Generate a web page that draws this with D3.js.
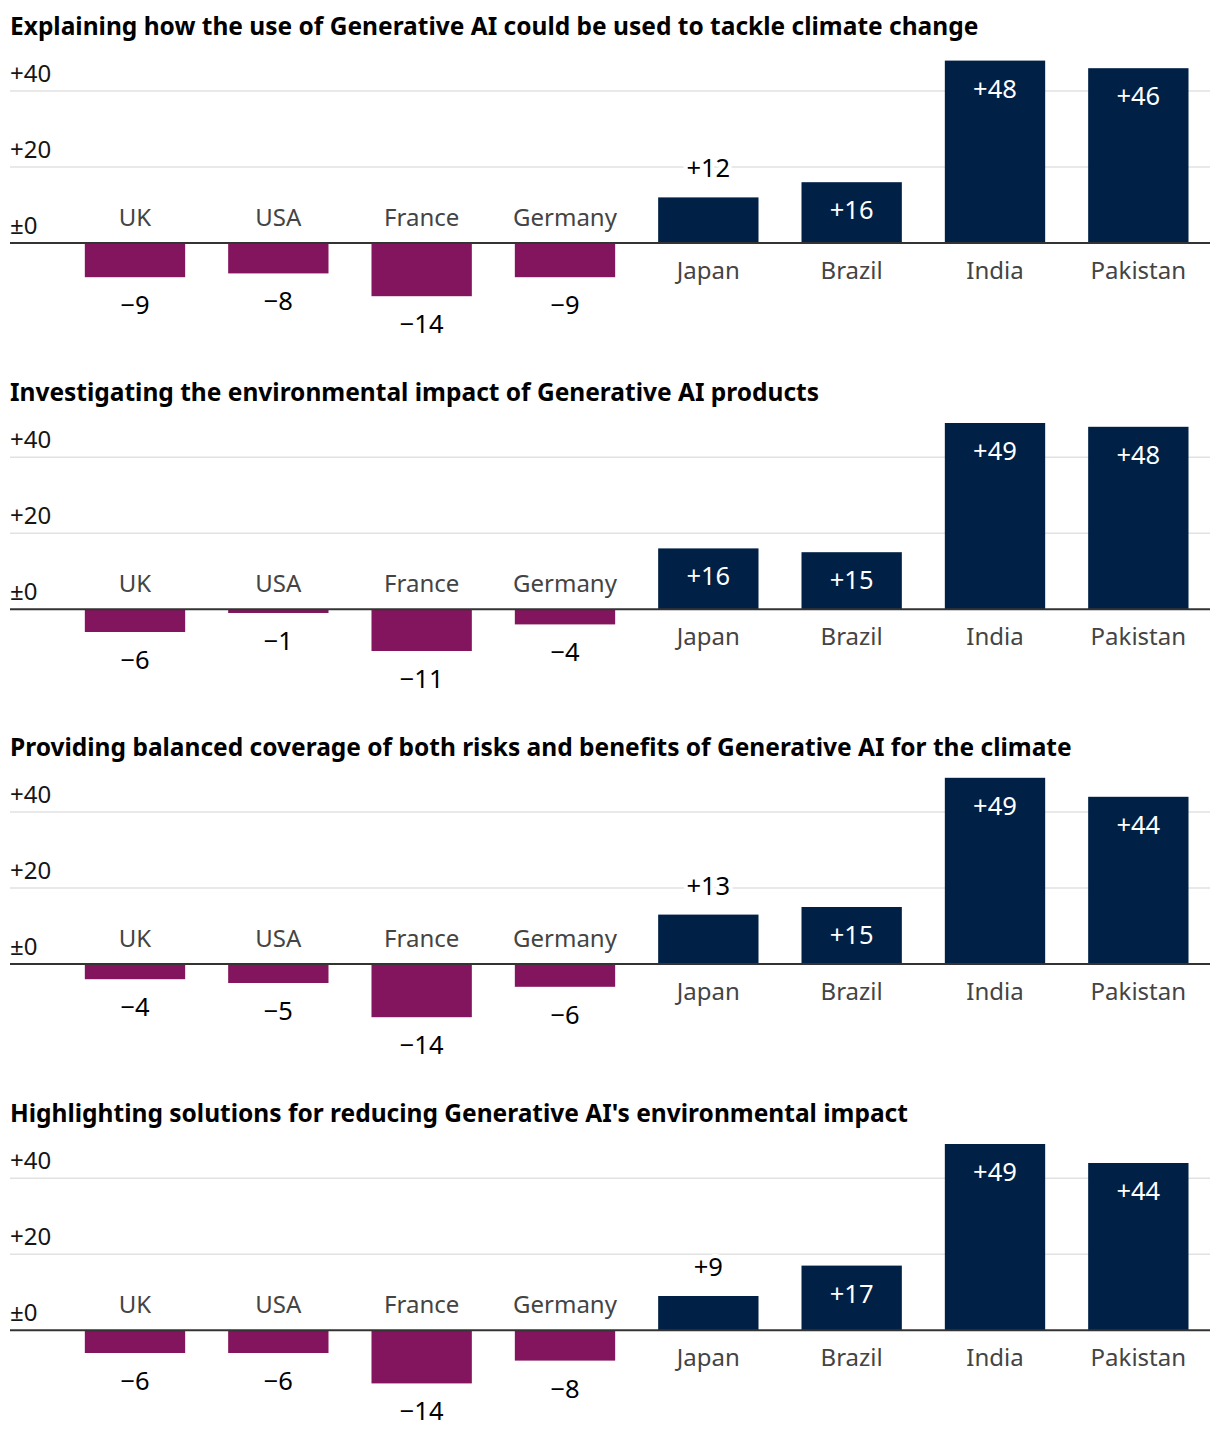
<!DOCTYPE html>
<html><head><meta charset="utf-8">
<script src="https://cdn.jsdelivr.net/npm/d3@7/dist/d3.min.js"></script>
<style>
body{margin:0;background:#fff;}
svg text{font-family:"Noto Sans",sans-serif;}
</style></head>
<body><svg id="c" width="1220" height="1442"></svg>
<script>
const countries = ["UK","USA","France","Germany","Japan","Brazil","India","Pakistan"];
const titles = [
  "Explaining how the use of Generative AI could be used to tackle climate change",
  "Investigating the environmental impact of Generative AI products",
  "Providing balanced coverage of both risks and benefits of Generative AI for the climate",
  "Highlighting solutions for reducing Generative AI's environmental impact"
];
const values1 = [-9,-8,-14,-9,12,16,48,46];
const values2 = [-6,-1,-11,-4,16,15,49,48];
const values3 = [-4,-5,-14,-6,13,15,49,44];
const values4 = [-6,-6,-14,-8,9,17,49,44];
const allValues = [values1,values2,values3,values4];
const yTicks = [0,20,40];
const tickLabel = v => v===0 ? "\u00b10" : (v>0?"+":"\u2212")+Math.abs(v);
const valLabel = v => (v>0?"+":"\u2212")+Math.abs(v);

const svg = d3.select("#c");
const x = d3.scaleBand().domain(countries).range([63.33,1210]).paddingInner(0.3).paddingOuter(0.15);
const pxPerUnit = 3.8;
let titleY = 35; // baseline of first title
allValues.forEach((vals,i)=>{
  const zeroY = titleY + 208;
  const y = d3.scaleLinear().domain([0,20]).range([zeroY, zeroY-20*pxPerUnit]);
  const g = svg.append("g");
  g.append("text").attr("x",10).attr("y",titleY).attr("font-size",24.5).attr("font-weight",700)
    .attr("fill","#000").attr("class","title").text(titles[i]);
  yTicks.filter(t=>t!==0).forEach(t=>{
    g.append("line").attr("x1",10).attr("x2",1210).attr("y1",y(t)).attr("y2",y(t))
      .attr("stroke","#e2e2e2").attr("stroke-width",1.5);
  });
  yTicks.forEach(t=>{
    g.append("text").attr("x",10).attr("y",y(t)-9).attr("font-size",24).attr("fill","#161616").text(tickLabel(t));
  });
  const data = countries.map((c,j)=>({c,v:vals[j]}));
  g.selectAll("rect.bar").data(data).enter().append("rect")
    .attr("x",d=>x(d.c)).attr("width",x.bandwidth())
    .attr("y",d=>Math.min(y(d.v),y(0))).attr("height",d=>Math.abs(y(d.v)-y(0)))
    .attr("fill",d=>d.v<0?"#83155e":"#002046");
  g.append("line").attr("x1",10).attr("x2",1210).attr("y1",zeroY).attr("y2",zeroY)
    .attr("stroke","#333").attr("stroke-width",2);
  g.selectAll("text.cty").data(data).enter().append("text")
    .attr("x",d=>x(d.c)+x.bandwidth()/2).attr("y",d=>d.v<0?zeroY-17:zeroY+36)
    .attr("text-anchor","middle").attr("font-size",24).attr("fill","#444").text(d=>d.c);
  g.selectAll("text.val").data(data).enter().append("text")
    .each(function(d){
      const h = Math.abs(y(d.v)-y(0));
      const t = d3.select(this).attr("x",x(d.c)+x.bandwidth()/2).attr("text-anchor","middle")
        .attr("font-size",25.5).text(valLabel(d.v));
      if(d.v<0){ t.attr("y",y(d.v)+37).attr("fill","#000"); }
      else if(h>52){ t.attr("y",y(d.v)+37).attr("fill","#fff"); }
      else { t.attr("y",y(d.v)-20).attr("fill","#000").attr("stroke","#fff").attr("stroke-width",8)
        .attr("paint-order","stroke").attr("stroke-linejoin","round"); }
    });
  const minV = d3.min(vals);
  titleY = zeroY + Math.abs(minV)*pxPerUnit + 97 + 8;
});
</script></body></html>
